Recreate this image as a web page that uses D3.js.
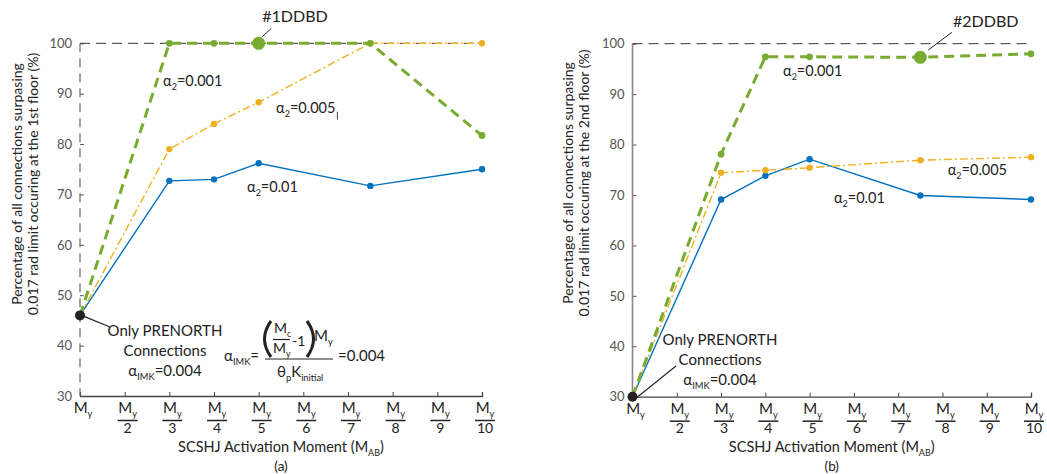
<!DOCTYPE html>
<html>
<head>
<meta charset="utf-8">
<script src="https://cdn.jsdelivr.net/npm/d3@7"></script>
<style>
  body { margin: 0; background: #fff; }
  svg text { font-family: Lato, "Open Sans", sans-serif; fill: #222; }
</style>
</head>
<body>
<div id="chart"></div>
<script>
'use strict';

// x values: the activation moment is My/n, n = 1..10
var tickDenoms = [1, 2, 3, 4, 5, 6, 7, 8, 9, 10];
var yTicks = [30, 40, 50, 60, 70, 80, 90, 100];
var xPoints = [1, 3, 4, 5, 7.5, 10];

// (a) 1st floor
var green1 = [46, 100, 100, 100, 100, 81.7];
var yellow1 = [46, 79, 84, 88.3, 100, 100];
var blue1 = [46, 72.7, 73, 76.2, 71.7, 75];

// (b) 2nd floor
var green2 = [30, 78.1, 97.4, 97.4, 97.3, 98];
var yellow2 = [30, 74.4, 74.9, 75.4, 76.9, 77.5];
var blue2 = [30, 69.1, 73.8, 77.1, 69.9, 69.1];

var blueColor = '#0072BD';
var yellowColor = '#EDB120';
var greenColor = '#77AC30';

var svg = d3.select('#chart').append('svg')
  .attr('width', 1047)
  .attr('height', 474);

// text with subscripts; parts = [[string, isSub], ...]
function richText(g, x, y, parts, size, anchor) {
  var t = g.append('text')
    .attr('x', x)
    .attr('y', y)
    .attr('font-size', size)
    .attr('text-anchor', anchor || 'start');
  var shifted = false;
  parts.forEach(function(p) {
    var s = t.append('tspan').text(p[0]);
    if (p[1] && !shifted) {
      s.attr('dy', size * 0.27).attr('font-size', size * 0.62);
      shifted = true;
    } else if (p[1]) {
      s.attr('font-size', size * 0.62);
    } else if (shifted) {
      s.attr('dy', -size * 0.27);
      shifted = false;
    }
  });
  return t;
}

function drawPanel(cfg) {
  var g = svg.append('g');
  var x = d3.scaleLinear().domain([1, 10]).range([cfg.left, cfg.right]);
  var y = d3.scaleLinear().domain([30, 100]).range([cfg.bottom, cfg.top]);

  // y ticks and labels
  var yAxis = d3.axisLeft(y).tickValues(yTicks).tickSize(-4).tickPadding(8);
  var ya = g.append('g')
    .attr('transform', 'translate(' + cfg.left + ',0)')
    .call(yAxis);
  ya.select('.domain').remove();
  ya.selectAll('.tick line').attr('stroke', '#555');
  ya.selectAll('.tick text')
    .attr('font-size', 13)
    .style('fill', '#555')
    .style('font-family', 'Lato, sans-serif');

  // x ticks (labels drawn by hand as fractions)
  var xAxis = d3.axisBottom(x).tickValues(tickDenoms).tickSize(-4).tickFormat('');
  var xa = g.append('g')
    .attr('transform', 'translate(0,' + cfg.bottom + ')')
    .call(xAxis);
  xa.select('.domain').attr('stroke', '#444').attr('stroke-width', 1.3);
  xa.selectAll('.tick line').attr('stroke', '#444');

  // y axis line
  g.append('line')
    .attr('x1', cfg.left).attr('x2', cfg.left)
    .attr('y1', y(100)).attr('y2', cfg.bottom)
    .attr('stroke', cfg.yDashed ? '#666' : '#888')
    .attr('stroke-width', cfg.yDashed ? 1.2 : 1.6)
    .attr('stroke-dasharray', cfg.yDashed ? '9,6' : null);

  // 100% reference line
  g.append('line')
    .attr('x1', cfg.left).attr('x2', cfg.right)
    .attr('y1', y(100)).attr('y2', y(100))
    .attr('stroke', '#333')
    .attr('stroke-width', 1)
    .attr('stroke-dasharray', '10,6');

  // tick labels My / n
  tickDenoms.forEach(function(n) {
    var cx = x(n) + 3;
    richText(g, cx, cfg.bottom + 17, [['M', false], ['y', true]], 15, 'middle');
    if (n > 1) {
      g.append('line')
        .attr('x1', cx - 10).attr('x2', cx + 10)
        .attr('y1', cfg.bottom + 24.5).attr('y2', cfg.bottom + 24.5)
        .attr('stroke', '#222').attr('stroke-width', 1.5);
      g.append('text')
        .attr('x', cx).attr('y', cfg.bottom + 36.5)
        .attr('font-size', 14)
        .attr('text-anchor', 'middle')
        .text(n);
    }
  });

  // axis titles
  var mid = (cfg.left + cfg.right) / 2;
  richText(g, mid, 452, [['SCSHJ Activation Moment (M', false], ['AB', true], [')', false]], 14.5, 'middle');
  g.append('text')
    .attr('x', mid).attr('y', 471)
    .attr('font-size', 13.5)
    .attr('text-anchor', 'middle')
    .text(cfg.tag);

  var yl = g.append('text')
    .attr('transform', 'translate(' + cfg.ylabelX + ',' + cfg.ylabelY + ') rotate(-90)')
    .attr('text-anchor', 'middle')
    .attr('font-size', 14);
  yl.append('tspan').attr('x', 0).attr('dy', 0)
    .text('Percentage of all connections surpasing');
  yl.append('tspan').attr('x', 0).attr('dy', 16)
    .text(cfg.ylabel2);

  // series
  var line = d3.line()
    .x(function(d, i) { return x(xPoints[i]); })
    .y(function(d) { return y(d); });

  var series = [
    { values: cfg.blue, color: blueColor, width: 1.4, dash: null, r: 3.2 },
    { values: cfg.yellow, color: yellowColor, width: 1.4, dash: '8,3,2,3', r: 3.2 },
    { values: cfg.green, color: greenColor, width: 3, dash: '10,6', r: 3.4 }
  ];

  series.forEach(function(s) {
    g.append('path')
      .datum(s.values)
      .attr('d', line)
      .attr('fill', 'none')
      .attr('stroke', s.color)
      .attr('stroke-width', s.width)
      .attr('stroke-dasharray', s.dash);
    g.selectAll(null)
      .data(s.values.slice(1))
      .enter().append('circle')
      .attr('cx', function(d, i) { return x(xPoints[i + 1]); })
      .attr('cy', function(d) { return y(d); })
      .attr('r', s.r)
      .attr('fill', s.color);
  });

  // highlighted design
  var hi = cfg.highlight;
  g.append('circle')
    .attr('cx', x(xPoints[hi]))
    .attr('cy', y(cfg.green[hi]))
    .attr('r', 6.5)
    .attr('fill', greenColor);
  g.append('line')
    .attr('x1', x(cfg.hiLead[0])).attr('y1', y(cfg.hiLead[1]))
    .attr('x2', x(cfg.hiLead[2])).attr('y2', y(cfg.hiLead[3]))
    .attr('stroke', '#222').attr('stroke-width', 1);
  g.append('text')
    .attr('x', x(cfg.hiText[0])).attr('y', y(cfg.hiText[1]))
    .attr('font-size', 16)
    .text(cfg.hiName);

  // starting point, only PRENORTH connections
  g.append('circle')
    .attr('cx', x(xPoints[0]))
    .attr('cy', y(cfg.green[0]))
    .attr('r', 5)
    .attr('fill', '#222');
  g.append('line')
    .attr('x1', x(xPoints[0]) + 4).attr('y1', y(cfg.green[0]) + 1)
    .attr('x2', cfg.noteLead[0]).attr('y2', cfg.noteLead[1])
    .attr('stroke', '#222').attr('stroke-width', 1.1);
  g.append('text')
    .attr('x', cfg.note[0]).attr('y', cfg.note[1])
    .attr('font-size', 15).attr('text-anchor', 'middle')
    .text('Only PRENORTH');
  g.append('text')
    .attr('x', cfg.note[0]).attr('y', cfg.note[1] + 20)
    .attr('font-size', 15).attr('text-anchor', 'middle')
    .text('Connections');
  richText(g, cfg.note[0], cfg.note[1] + 40,
    [['α', false], ['IMK', true], ['=0.004', false]], 15, 'middle');

  // series labels
  var labels = cfg.labels.map(function(l) {
    return richText(g, x(l[0]), y(l[1]), [['α', false], ['2', true], [l[2], false]], 14.5, 'start');
  });

  return { g: g, x: x, y: y, labels: labels };
}

var pa = drawPanel({
  left: 80, right: 482, top: 43.3, bottom: 396,
  yDashed: true,
  green: green1, yellow: yellow1, blue: blue1,
  highlight: 3, hiName: '#1DDBD',
  hiLead: [5.08, 101.3, 5.28, 102.95], hiText: [5.08, 104.3],
  note: [165, 336], noteLead: [110, 327],
  labels: [[2.86, 91.5, '=0.001'], [5.39, 86.2, '=0.005'], [4.74, 70.5, '=0.01']],
  ylabelX: 22, ylabelY: 184,
  ylabel2: '0.017 rad limit occuring at the 1st floor (%)',
  tag: '(a)'
});

var pb = drawPanel({
  left: 632.5, right: 1031, top: 43.7, bottom: 396.7,
  yDashed: false,
  green: green2, yellow: yellow2, blue: blue2,
  highlight: 4, hiName: '#2DDBD',
  hiLead: [7.68, 98.75, 8.21, 102.25], hiText: [8.24, 103.4],
  note: [720, 345], noteLead: [676, 366],
  labels: [[4.4, 93.6, '=0.001'], [8.12, 74.0, '=0.005'], [5.55, 68.4, '=0.01']],
  ylabelX: 573, ylabelY: 183,
  ylabel2: '0.017 rad limit occuring at the 2nd floor (%)',
  tag: '(b)'
});

// small cursor-like mark right after the 0.005 label in (a)
var lb = pa.labels[1].node().getBBox();
pa.g.append('line')
  .attr('x1', lb.x + lb.width + 2).attr('x2', lb.x + lb.width + 2)
  .attr('y1', lb.y + lb.height - 7).attr('y2', lb.y + lb.height + 1)
  .attr('stroke', '#444').attr('stroke-width', 1);

// alpha_IMK formula in (a)
var fg = pa.g.append('g');
richText(fg, 224, 361, [['α', false], ['IMK', true], ['=', false]], 15, 'start');
fg.append('path')
  .attr('d', 'M271,321 Q258,339 271,357')
  .attr('fill', 'none').attr('stroke', '#222').attr('stroke-width', 3);
fg.append('path')
  .attr('d', 'M307,321 Q320,339 307,357')
  .attr('fill', 'none').attr('stroke', '#222').attr('stroke-width', 3);
richText(fg, 274, 333, [['M', false], ['c', true]], 14, 'start');
fg.append('line')
  .attr('x1', 273).attr('x2', 290).attr('y1', 339.5).attr('y2', 339.5)
  .attr('stroke', '#222').attr('stroke-width', 1.2);
richText(fg, 273, 353, [['M', false], ['y', true]], 14, 'start');
fg.append('text').attr('x', 292).attr('y', 346).attr('font-size', 14).text('-1');
richText(fg, 314, 341, [['M', false], ['y', true]], 15, 'start');
fg.append('line')
  .attr('x1', 265).attr('x2', 333).attr('y1', 359).attr('y2', 359)
  .attr('stroke', '#222').attr('stroke-width', 1.2);
richText(fg, 277, 377, [['θ', false], ['p', true], ['K', false], ['initial', true]], 15, 'start');
fg.append('text').attr('x', 338).attr('y', 361).attr('font-size', 15).text('=0.004');
</script>
</body>
</html>
